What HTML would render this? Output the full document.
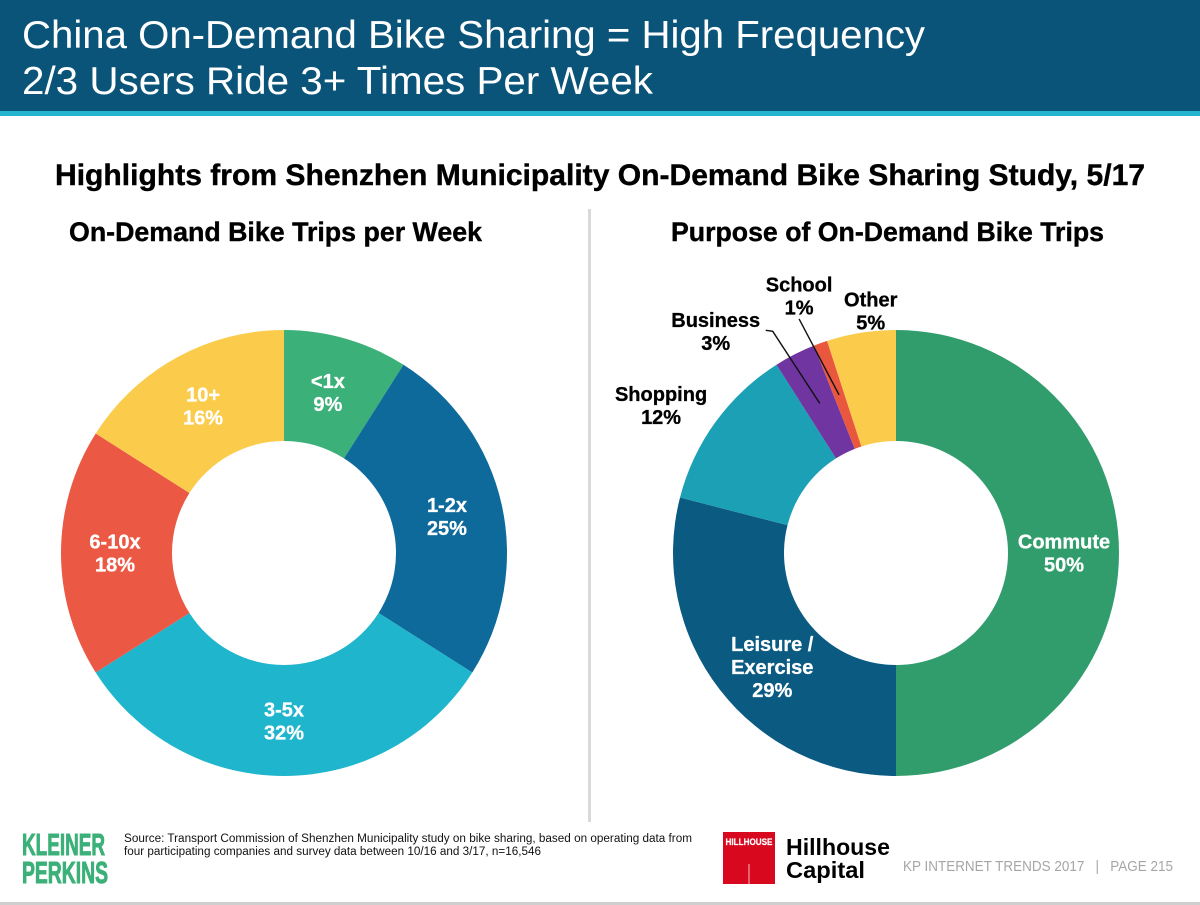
<!DOCTYPE html>
<html lang="en">
<head>
<meta charset="utf-8">
<title>China On-Demand Bike Sharing</title>
<style>
html,body{margin:0;padding:0;background:#fff;width:1200px;height:905px;overflow:hidden}
svg{display:block}
text{font-family:"Liberation Sans",Arial,sans-serif}
.lbl{font-weight:700;font-size:20px;text-anchor:middle;stroke-width:.3px}
.heavy{stroke:#000;stroke-width:.4px}
</style>
</head>
<body>
<svg id="slide" xmlns="http://www.w3.org/2000/svg" width="1200" height="905" viewBox="0 0 1200 905">
  <rect x="0" y="0" width="1200" height="111" fill="#0a5479"/>
  <rect x="0" y="111" width="1200" height="5" fill="#25b4cf"/>
  <text x="22" y="48" font-size="39" fill="#fff" textLength="903" lengthAdjust="spacingAndGlyphs">China On-Demand Bike Sharing = High Frequency</text>
  <text x="22" y="94" font-size="39" fill="#fff" textLength="631" lengthAdjust="spacingAndGlyphs">2/3 Users Ride 3+ Times Per Week</text>
  <text class="heavy" x="55" y="185" font-size="29.5" font-weight="700" fill="#000" textLength="1090" lengthAdjust="spacingAndGlyphs">Highlights from Shenzhen Municipality On-Demand Bike Sharing Study, 5/17</text>
  <text class="heavy" x="69" y="241" font-size="27" font-weight="700" fill="#000" textLength="413" lengthAdjust="spacingAndGlyphs">On-Demand Bike Trips per Week</text>
  <text class="heavy" x="671" y="241" font-size="27" font-weight="700" fill="#000" textLength="433" lengthAdjust="spacingAndGlyphs">Purpose of On-Demand Bike Trips</text>
  <rect x="588" y="209" width="3" height="613" fill="#d9d9d9"/>

  <g id="left-donut"></g>
  <g id="right-donut"></g>

  <g>
    <text x="22" y="855" font-size="31" font-weight="700" fill="#3bb078" stroke="#3bb078" stroke-width="1" textLength="83" lengthAdjust="spacingAndGlyphs">KLEINER</text>
    <text x="22" y="883" font-size="31" font-weight="700" fill="#3bb078" stroke="#3bb078" stroke-width="1" textLength="86" lengthAdjust="spacingAndGlyphs">PERKINS</text>
  </g>
  <text x="124" y="842" font-size="11.5" fill="#111" textLength="568" lengthAdjust="spacingAndGlyphs">Source: Transport Commission of Shenzhen Municipality study on bike sharing, based on operating data from</text>
  <text x="124" y="855" font-size="11.5" fill="#111" textLength="417" lengthAdjust="spacingAndGlyphs">four participating companies and survey data between 10/16 and 3/17, n=16,546</text>

  <g>
    <rect x="723" y="832" width="52" height="52" fill="#d8091f"/>
    <text x="749" y="845" font-size="9" font-weight="700" fill="#fff" stroke="#fff" stroke-width=".2" text-anchor="middle" textLength="47" lengthAdjust="spacingAndGlyphs">HILLHOUSE</text>
    <rect x="748.5" y="864" width="1" height="20" fill="#f6b7bd"/>
    <text x="786" y="855" font-size="23.5" font-weight="700" fill="#000" textLength="104" lengthAdjust="spacingAndGlyphs">Hillhouse</text>
    <text x="786" y="878" font-size="23.5" font-weight="700" fill="#000" textLength="79" lengthAdjust="spacingAndGlyphs">Capital</text>
  </g>
  <text x="903" y="871" font-size="14.5" fill="#a6a6a6" textLength="270" lengthAdjust="spacingAndGlyphs" xml:space="preserve">KP INTERNET TRENDS 2017   |   PAGE 215</text>
  <rect x="0" y="902" width="1200" height="3" fill="#cfcfcf"/>
</svg>

<script>
// Left chart data
const tripCategories = ['<1x', '1-2x', '3-5x', '6-10x', '10+'];
const tripShares = [9, 25, 32, 18, 16];
const tripColors = ['#3bb078', '#0e6a9b', '#1fb5cc', '#eb5844', '#fbcb4c'];

// Right chart data
const purposeCategories = ['Commute', 'Leisure / Exercise', 'Shopping', 'Business', 'School', 'Other'];
const purposeShares = [50, 29, 12, 3, 1, 5];
const purposeColors = ['#319c6c', '#0a5a82', '#1ba0b5', '#7035a0', '#e9573f', '#fbcb4c'];

const SVGNS = 'http://www.w3.org/2000/svg';
const outerR = 223;
const innerR = 112;
const labelR = 168;
const lineGap = 23;

// Manual label layout relative to each slice's anchor (not data)
const tripLabelNudge = {
  '<1x': {dx: -3, dy: 1, color: '#fff'},
  '1-2x': {dx: -1, dy: 0, color: '#fff'},
  '6-10x': {dx: -1, dy: 0, color: '#fff'}
};
const purposeLabelNudge = {
  'Leisure / Exercise': {dx: 9, dy: 11, color: '#fff'},
  'Shopping': {dx: -99, dy: -49, color: '#000'},
  'Business': {dx: -104, dy: -72, color: '#000'},
  'School': {dx: -40, dy: -99, color: '#000'},
  'Other': {dx: 1, dy: -76, color: '#000'}
};
const purposeLeaders = {
  'Business': [[-54, -73], [-47, -72], [0, 0]],
  'School': [[-40, -76], [0, 0]]
};

function polar(cx, cy, r, pct) {
  const a = pct / 100 * 2 * Math.PI;
  return [cx + r * Math.sin(a), cy - r * Math.cos(a)];
}

function slicePath(cx, cy, from, to) {
  const p1 = polar(cx, cy, outerR, from);
  const p2 = polar(cx, cy, outerR, to);
  const p3 = polar(cx, cy, innerR, to);
  const p4 = polar(cx, cy, innerR, from);
  const large = (to - from) > 50 ? 1 : 0;
  return 'M' + p1[0] + ' ' + p1[1] +
    'A' + outerR + ' ' + outerR + ' 0 ' + large + ' 1 ' + p2[0] + ' ' + p2[1] +
    'L' + p3[0] + ' ' + p3[1] +
    'A' + innerR + ' ' + innerR + ' 0 ' + large + ' 0 ' + p4[0] + ' ' + p4[1] + 'Z';
}

function labelLines(name, value) {
  if (name === 'Leisure / Exercise') return ['Leisure /', 'Exercise', value + '%'];
  return [name, value + '%'];
}

function slug(name) {
  return name.toLowerCase().replace(/[^a-z0-9]+/g, '-').replace(/^-|-$/g, '').replace(/^1x$/, 'under-1x');
}

function drawDonut(groupId, cx, cy, categories, shares, colors, nudges, leaders) {
  const group = document.getElementById(groupId);
  const total = shares.reduce(function (s, v) { return s + v; }, 0);
  let running = 0;
  const marks = [];
  categories.forEach(function (name, i) {
    const from = running / total * 100;
    running += shares[i];
    const to = running / total * 100;
    const path = document.createElementNS(SVGNS, 'path');
    path.setAttribute('d', slicePath(cx, cy, from, to));
    path.setAttribute('fill', colors[i]);
    
    
    group.appendChild(path);
    marks.push({name: name, value: shares[i], mid: (from + to) / 2});
  });
  marks.forEach(function (m) {
    const anchor = polar(cx, cy, labelR, m.mid);
    const route = leaders[m.name];
    if (route) {
      const line = document.createElementNS(SVGNS, 'polyline');
      line.setAttribute('points', route.map(function (o) {
        return (anchor[0] + o[0]) + ',' + (anchor[1] + o[1]);
      }).join(' '));
      line.setAttribute('fill', 'none');
      line.setAttribute('stroke', '#111');
      line.setAttribute('stroke-width', '1.4');
      
      
      group.appendChild(line);
    }
    const nudge = nudges[m.name] || {dx: 0, dy: 0, color: '#fff'};
    const lines = labelLines(m.name, m.value);
    const text = document.createElementNS(SVGNS, 'text');
    text.setAttribute('class', 'lbl');
    text.setAttribute('fill', nudge.color);
    text.setAttribute('stroke', nudge.color);
    
    
    const lx = anchor[0] + nudge.dx;
    const topY = anchor[1] + nudge.dy - (lines.length - 1) * lineGap / 2 + 7;
    lines.forEach(function (t, k) {
      const span = document.createElementNS(SVGNS, 'tspan');
      span.setAttribute('x', lx);
      span.setAttribute('y', topY + k * lineGap);
      span.textContent = t;
      text.appendChild(span);
    });
    group.appendChild(text);
  });
}

drawDonut('left-donut', 284, 553, tripCategories, tripShares, tripColors, tripLabelNudge, {});
drawDonut('right-donut', 896, 553, purposeCategories, purposeShares, purposeColors, purposeLabelNudge, purposeLeaders);
</script>
</body>
</html>
